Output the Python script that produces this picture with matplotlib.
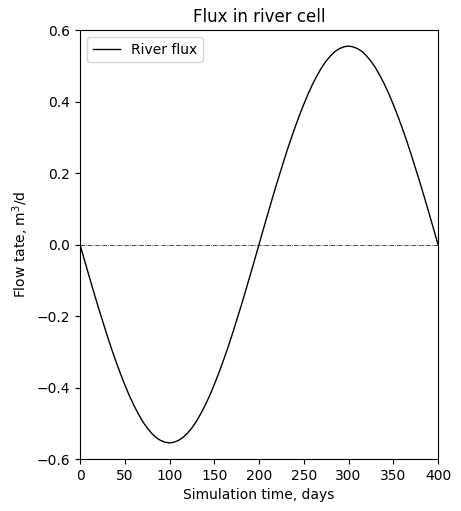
import matplotlib
matplotlib.use("Agg")
import matplotlib.pyplot as plt

days = list(range(0, 401, 5))
river_flux = [
    0.000, -0.044, -0.087, -0.130, -0.172, -0.212, -0.252, -0.290, -0.326, -0.360,
    -0.392, -0.422, -0.449, -0.473, -0.495, -0.513, -0.528, -0.540, -0.548, -0.553,
    -0.555, -0.553, -0.548, -0.540, -0.528, -0.513, -0.495, -0.473, -0.449, -0.422,
    -0.392, -0.360, -0.326, -0.290, -0.252, -0.212, -0.172, -0.130, -0.087, -0.044,
    0.000, 0.044, 0.087, 0.130, 0.172, 0.212, 0.252, 0.290, 0.326, 0.360,
    0.392, 0.422, 0.449, 0.473, 0.495, 0.513, 0.528, 0.540, 0.548, 0.553,
    0.555, 0.553, 0.548, 0.540, 0.528, 0.513, 0.495, 0.473, 0.449, 0.422,
    0.392, 0.360, 0.326, 0.290, 0.252, 0.212, 0.172, 0.130, 0.087, 0.044,
    0.000,
]

fig = plt.figure(figsize=(4.61, 5.11), dpi=100)
ax = fig.add_axes([80/461, 1-459/511, (438-80)/461, (459-30)/511])
ax.plot(days, river_flux, color="black", lw=1.0, label="River flux")
ax.axhline(0, color="black", lw=0.5, ls="-.")
ax.set_xlim(0, 400)
ax.set_ylim(-0.6, 0.6)
ax.set_xticks(range(0, 401, 50))
ax.set_title("Flux in river cell")
ax.set_xlabel("Simulation time, days")
ax.set_ylabel("Flow tate, m$^3$/d")
ax.legend(loc="upper left")
fig.savefig("out.png", dpi=100)
